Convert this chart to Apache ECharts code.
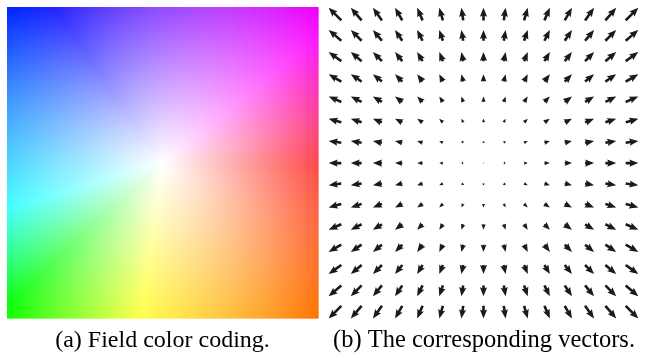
<!DOCTYPE html>
<html><head><meta charset="utf-8">
<script src="https://cdn.jsdelivr.net/npm/echarts@6/dist/echarts.min.js"></script>
<style>html,body{margin:0;padding:0;background:#fff}#c{width:645px;height:358px}</style>
</head><body><div id="c"></div><script>
// Grid positions of the vector field (columns left->right, rows bottom->top)
const gridX = [-7,-6,-5,-4,-3,-2,-1,0,1,2,3,4,5,6,7];
const gridY = [-7,-6,-5,-4,-3,-2,-1,0,1,2,3,4,5,6,7];
// Vector components: u per column, v per row (radial, outward field)
const vecU = [-7,-6,-5,-4,-3,-2,-1,0,1,2,3,4,5,6,7];
const vecV = [-7,-6,-5,-4,-3,-2,-1,0,1,2,3,4,5,6,7];
// Middlebury color wheel segment lengths: RY, YG, GC, CB, BM, MR
const wheelSegments = [15,6,4,11,13,6];
// Sampling resolution of the color-coded field
const fieldSamples = 156;
const captions = ['(a) Field color coding.', '(b) The corresponding vectors.'];

function makeWheel(){
  const [RY,YG,GC,CB,BM,MR] = wheelSegments; const w=[];
  for(let i=0;i<RY;i++) w.push([255, 255*i/RY, 0]);
  for(let i=0;i<YG;i++) w.push([255-255*i/YG, 255, 0]);
  for(let i=0;i<GC;i++) w.push([0, 255, 255*i/GC]);
  for(let i=0;i<CB;i++) w.push([0, 255-255*i/CB, 255]);
  for(let i=0;i<BM;i++) w.push([255*i/BM, 0, 255]);
  for(let i=0;i<MR;i++) w.push([255, 0, 255-255*i/MR]);
  return w;
}
const wheel = makeWheel();
const maxRad = Math.SQRT2;
function flowColor(u, vUp){
  const vImg = -vUp;
  const rad = Math.sqrt(u*u + vImg*vImg)/maxRad;
  const a = Math.atan2(-vImg, -u)/Math.PI;
  const n = wheel.length;
  let fk = (a+1)/2*n;
  if(fk >= n) fk -= n;
  const k0 = Math.floor(fk), k1 = (k0+1)%n, f = fk-k0;
  const c = [0,1,2].map(b=>{
    let col = ((1-f)*wheel[k0][b] + f*wheel[k1][b])/255;
    col = rad<=1 ? 1 - rad*(1-col) : col*0.75;
    return Math.round(255*col);
  });
  return 'rgb('+c.join(',')+')';
}

// Field samples: position + flow vector (flow equals position in this field)
const fieldData = [];
for(let i=0;i<fieldSamples;i++){
  for(let j=0;j<fieldSamples;j++){
    const x = -1 + (i+0.5)*2/fieldSamples;
    const y = -1 + (j+0.5)*2/fieldSamples;
    fieldData.push([x, y, x, y]);
  }
}
const vecData = [];
gridX.forEach((gx,i)=>gridY.forEach((gy,j)=>vecData.push([gx, gy, vecU[i], vecV[j]])));

const vecScale = 0.085;
const shaftW = 2.6, headLen = 9, headW = 7.2, headAxis = 8;

const chart = echarts.init(document.getElementById('c'), null, {renderer:'canvas'});
chart.setOption({
  animation:false,
  backgroundColor:'#fff',
  grid:[
    {left:7, top:7, width:311, height:311},
    {left:324.4, top:3.4, width:318.2, height:319.4}
  ],
  xAxis:[
    {type:'value', gridIndex:0, min:-1, max:1, show:false},
    {type:'value', gridIndex:1, min:-7.5, max:7.5, show:false}
  ],
  yAxis:[
    {type:'value', gridIndex:0, min:-1, max:1, show:false},
    {type:'value', gridIndex:1, min:-7.5, max:7.5, show:false}
  ],
  series:[
    {
      type:'custom', xAxisIndex:0, yAxisIndex:0, data:fieldData, silent:true,
      renderItem:(params, api)=>{
        const x=api.value(0), y=api.value(1);
        const h = 1/fieldSamples;
        const p0 = api.coord([x-h, y+h]);
        const sz = api.size([2*h, 2*h]);
        return {type:'rect', shape:{x:p0[0], y:p0[1], width:sz[0]+0.6, height:sz[1]+0.6},
          style:{fill:flowColor(api.value(2), api.value(3))}};
      }
    },
    {
      type:'custom', xAxisIndex:1, yAxisIndex:1, data:vecData, silent:true,
      renderItem:(params, api)=>{
        const x=api.value(0), y=api.value(1), u=api.value(2), v=api.value(3);
        const t = api.coord([x - u*vecScale/2, y - v*vecScale/2]);
        const p = api.coord([x + u*vecScale/2, y + v*vecScale/2]);
        let dx=p[0]-t[0], dy=p[1]-t[1];
        let L = Math.sqrt(dx*dx+dy*dy);
        const c = api.coord([x,y]);
        if(L < 0.01){
          return {type:'circle', shape:{cx:c[0], cy:c[1], r:0.6}, style:{fill:'#777'}};
        }
        const dxn=dx/L, dyn=dy/L, nx=-dyn, ny=dxn;
        const k = L < headLen ? Math.max(L/headLen, 0.45) : 1;
        const sw=shaftW*k/2, hl=Math.min(headLen*k, L), hw=headW*k/2, ha=Math.min(headAxis*k, L*0.9);
        const pt=(along, side)=>[t[0]+dxn*along+nx*side, t[1]+dyn*along+ny*side];
        const pts=[pt(0,sw), pt(L-ha,sw), pt(L-hl,hw), pt(L,0), pt(L-hl,-hw), pt(L-ha,-sw), pt(0,-sw)];
        return {type:'polygon', shape:{points:pts}, style:{fill:'#1a1a1a'}};
      }
    }
  ],
  graphic:[
    {type:'text', x:162.5, y:341, style:{text:captions[0], font:'24px "Liberation Serif"', fill:'#000', textAlign:'center', textVerticalAlign:'middle'}},
    {type:'text', x:484, y:341, style:{text:captions[1], font:'24.5px "Liberation Serif"', fill:'#000', textAlign:'center', textVerticalAlign:'middle'}}
  ]
});
</script></body></html>
